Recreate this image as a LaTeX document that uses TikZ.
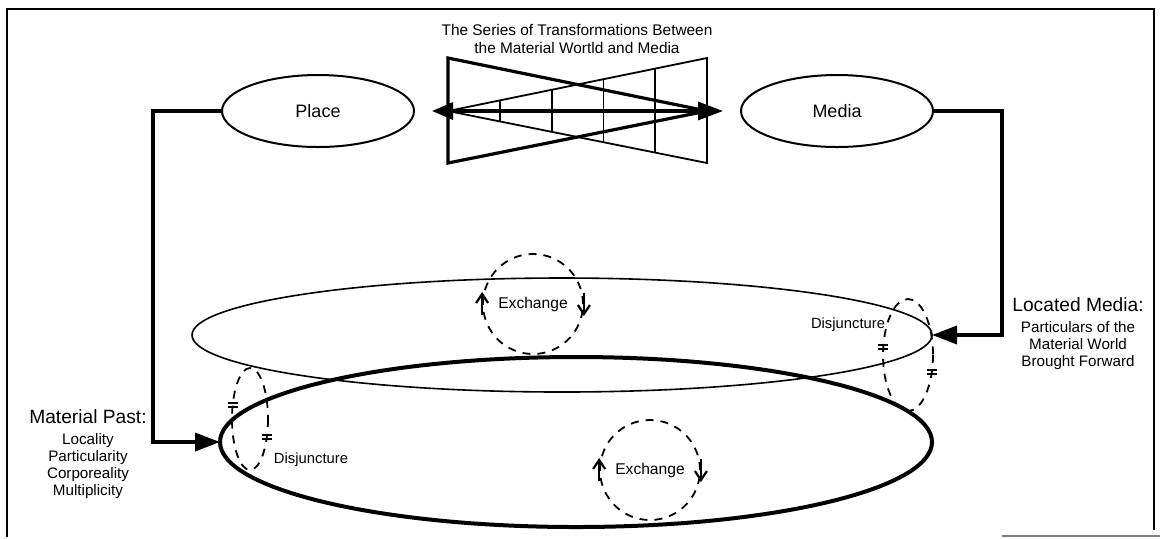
\documentclass[tikz,border=0pt]{standalone}
\usepackage{fontspec}
\setmainfont{Liberation Sans}
\usetikzlibrary{positioning}
\usetikzlibrary{calc}
\usetikzlibrary{shapes.geometric}
\usetikzlibrary{arrows.meta}

\tikzset{
  ell/.style={draw, ellipse, line width=1pt, minimum width=96pt, minimum height=36pt, inner sep=0pt, font=\fontsize{9}{10}\selectfont},
  link/.style={line width=1.8pt, -{Triangle[length=12.5pt,width=9pt]}},
  exch/.style={draw, circle, line width=0.9pt, dash pattern=on 4pt off 3.5pt, minimum size=50pt, inner sep=0pt, font=\fontsize{7.8}{9}\selectfont},
  turn/.style={line width=1.1pt, -{Straight Barb[length=4.5pt,width=6pt]}},
  disj/.style={line width=0.9pt, dash pattern=on 4pt off 3.5pt},
  tick/.style={line width=0.9pt},
  head/.style={font=\fontsize{9.6}{11}\selectfont},
  sub/.style={align=center, inner sep=1pt, font=\fontsize{7.6}{8.5}\selectfont},
  lbl/.style={font=\fontsize{7.4}{9}\selectfont}
}

\begin{document}
\begin{tikzpicture}[x=0.5pt, y=-0.5pt]
\useasboundingbox (0,0) rectangle (1160,538);
\draw[line width=1.2pt] (7,537) -- (7,9) -- (1154,9) -- (1154,530);
\draw[gray, line width=0.8pt] (1002,536) -- (1160,536);

\node (T) at (577,39) [align=center, font=\fontsize{7.7}{9}\selectfont] {The Series of Transformations Between\\the Material Wortld and Media};

\node (P) at (318,111) [ell] {Place};
\node (M) at (837,111) [ell] {Media};

% the two rings
\node (U) at (562,335) [draw, ellipse, line width=0.8pt, minimum width=370pt, minimum height=57pt, inner sep=0pt, outer sep=0pt] {};
\node (L) at (576,442) [draw, ellipse, line width=2pt, minimum width=356pt, minimum height=85pt, inner sep=0pt, outer sep=0pt] {};

% bow tie
\coordinate (tA) at (448,111);
\coordinate (tB) at (707,58);
\coordinate (tC) at (707,163);
\draw[line width=1.6pt] (448,58) -- (707,111) -- (448,163) -- cycle;
\draw[line width=0.9pt] (tB) -- (tA) -- (tC) -- cycle;
\foreach \k in {1,...,4}
  \draw[line width=0.9pt] ($(tA)!\k/5!(tB)$) -- ($(tA)!\k/5!(tC)$);
\coordinate (bl) at (432,111);
\coordinate (br) at (723,111);
\draw[line width=1.6pt, {Triangle[length=10.5pt,width=8.5pt]}-{Triangle[length=12.5pt,width=9pt]}] (bl) -- (br);

% connectors
\coordinate (lk) at (153,442);
\coordinate (rk) at (1002,335);
\draw[link] (P.west) -| (lk) -- (L.west);
\draw[link] (M.east) -| (rk) -- (U.east);

\node (MP) at (88,417) [head] {Material Past:};
\node (MPs) [below=0pt of MP, sub] {Locality\\Particularity\\Corporeality\\Multiplicity};
\node (LM) at (1078,305) [head] {Located Media:};
\node (LMs) [below=0pt of LM, sub] {Particulars of the\\Material World\\Brought Forward};

% exchange
\node (E1) at (533,304) [exch] {Exchange};
\node (E2) at (650,470) [exch] {Exchange};
\draw[turn] (E1.west) ++(0,11) -- ++(0,-23);
\draw[turn] (E1.east) ++(0,-11) -- ++(0,23);
\draw[turn] (E2.west) ++(0,11) -- ++(0,-23);
\draw[turn] (E2.east) ++(0,-11) -- ++(0,23);

% disjuncture
\draw[disj] (250,419) ellipse [x radius=18, y radius=51];
\draw[disj] (908,355) ellipse [x radius=25, y radius=56];
\foreach \x/\y in {233/405, 267/437, 883/347, 932/372}
  \draw[tick] (\x-5,\y-2) -- (\x+5,\y-2) (\x-5,\y+2) -- (\x+5,\y+2);
\node (D1) at (311,460) [lbl] {Disjuncture};
\node (D2) at (848,325) [lbl] {Disjuncture};
\end{tikzpicture}
\end{document}
